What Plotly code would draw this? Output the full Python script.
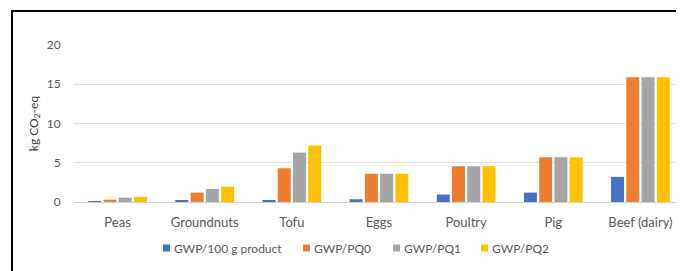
import plotly.graph_objects as go

categories = ["Peas", "Groundnuts", "Tofu", "Eggs", "Poultry", "Pig", "Beef (dairy)"]
series_names = ["GWP/100 g product", "GWP/PQ0", "GWP/PQ1", "GWP/PQ2"]
gwp_100g = [0.05, 0.2, 0.2, 0.35, 0.95, 1.2, 3.2]
gwp_pq0 = [0.3, 1.2, 4.3, 3.6, 4.55, 5.7, 15.9]
gwp_pq1 = [0.55, 1.65, 6.3, 3.6, 4.55, 5.7, 15.9]
gwp_pq2 = [0.65, 1.95, 7.2, 3.6, 4.55, 5.7, 15.9]
colors = ["#4472C4", "#ED7D31", "#A5A5A5", "#FFC000"]

# page body has an 8px margin; design in screen pixels and shift
OFF = 8
W, H = 684 - OFF, 271 - OFF
L, R, T = 74 - OFF, 0, 45 - OFF
B = H - (202 - OFF)
pw = W - L - R
ph = H - T - B

def px_to_paper_x(p):
    return (p - OFF - L) / pw

def px_to_paper_y(p):
    return (H - B - (p - OFF)) / ph

fig = go.Figure()
for name, vals, c in zip(series_names, [gwp_100g, gwp_pq0, gwp_pq1, gwp_pq2], colors):
    fig.add_trace(go.Bar(x=categories, y=vals, name=name, showlegend=False,
                         marker=dict(color=c, line=dict(width=0))))

font_family = "Lato, 'Open Sans', sans-serif"

# legend drawn as layout items (small squares + text)
legend_sq_x = [163, 303, 393, 481]
legend_y = 248
shapes = [
    dict(type="line", xref="paper", yref="paper",
         x0=px_to_paper_x(12), x1=px_to_paper_x(700),
         y0=px_to_paper_y(11), y1=px_to_paper_y(11),
         line=dict(color="black", width=2)),
    dict(type="line", xref="paper", yref="paper",
         x0=px_to_paper_x(12), x1=px_to_paper_x(12),
         y0=px_to_paper_y(10), y1=px_to_paper_y(300),
         line=dict(color="black", width=2)),
]
annotations = []
for sx, name, c in zip(legend_sq_x, series_names, colors):
    shapes.append(dict(type="rect", xref="paper", yref="paper",
                       x0=px_to_paper_x(sx), x1=px_to_paper_x(sx + 7),
                       y0=px_to_paper_y(legend_y + 3.5), y1=px_to_paper_y(legend_y - 3.5),
                       line=dict(width=0), fillcolor=c))
    annotations.append(dict(text=name, xref="paper", yref="paper",
                            x=px_to_paper_x(sx + 9), y=px_to_paper_y(legend_y),
                            xanchor="left", yanchor="middle", showarrow=False,
                            font=dict(size=12, color="#595959", family=font_family)))

fig.update_layout(
    width=W, height=H,
    margin=dict(l=L, r=R, t=T, b=B, pad=0),
    paper_bgcolor="white", plot_bgcolor="white",
    barmode="group", bargap=0.30, bargroupgap=0.15,
    font=dict(family=font_family, size=11, color="#595959"),
    showlegend=False,
    xaxis=dict(showgrid=False, showline=False, zeroline=False,
               ticks="outside", ticklen=8, tickcolor="rgba(0,0,0,0)",
               tickfont=dict(size=13, color="#595959")),
    yaxis=dict(range=[0, 20], tickvals=[0, 5, 10, 15, 20],
               showgrid=True, gridcolor="#E0E0E0", gridwidth=1,
               zeroline=True, zerolinecolor="#D0D0D0", zerolinewidth=1,
               showline=False, ticks="outside", ticklen=10, tickcolor="rgba(0,0,0,0)",
               tickfont=dict(size=12, color="#595959"),
               title=dict(text="kg CO<sub>2</sub>-eq", font=dict(size=12, color="#404040"), standoff=5)),
    shapes=shapes,
    annotations=annotations,
)

fig.write_html("out.html")
